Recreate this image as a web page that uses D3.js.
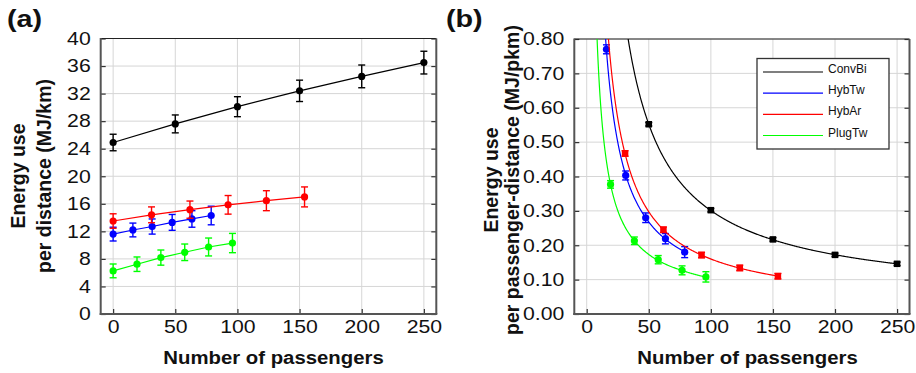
<!DOCTYPE html>
<html>
<head>
<meta charset="utf-8">
<script src="https://cdn.jsdelivr.net/npm/d3@7"></script>
<style>
  body { margin: 0; background: #fff; }
  svg { display: block; font-family: "Liberation Sans", Arial, sans-serif; }
</style>
</head>
<body>
<div id="chart"></div>
<script>
// ---- data ----
const seriesNames = ['ConvBi', 'HybTw', 'HybAr', 'PlugTw'];
const seriesColors = ['#000000', '#0000ff', '#ff0000', '#00ff00'];

// passengers for each series
const convBiN = [0, 50, 100, 150, 200, 250];
const hybTwN = [0, 15.9, 31.4, 47.5, 63.4, 78.9];
const hybArN = [0, 30.9, 61.8, 92.5, 123.3, 154];
const plugTwN = [0, 19.2, 38.4, 57.6, 76.8, 96];

// (a) energy use per distance, MJ/km, and error half-widths
const convBiA = [24.9, 27.6, 30.1, 32.4, 34.5, 36.5];
const convBiAErr = [1.2, 1.3, 1.45, 1.55, 1.65, 1.65];
const hybTwA = [11.6, 12.2, 12.7, 13.3, 13.8, 14.3];
const hybTwAErr = [1.0, 1.0, 1.1, 1.15, 1.2, 1.35];
const hybArA = [13.5, 14.4, 15.15, 15.85, 16.45, 17.0];
const hybArAErr = [1.05, 1.15, 1.25, 1.35, 1.45, 1.45];
const plugTwA = [6.26, 7.23, 8.19, 8.96, 9.73, 10.3];
const plugTwAErr = [1.0, 1.05, 1.1, 1.2, 1.3, 1.4];

// (b) energy use per passenger-distance, MJ/pkm (no point at 0 passengers)
const convBiB = [0.552, 0.302, 0.217, 0.172, 0.146];
const convBiBErr = [0.005, 0.005, 0.005, 0.005, 0.005];
const hybTwB = [0.770, 0.403, 0.280, 0.219, 0.180];
const hybTwBErr = [0.013, 0.013, 0.014, 0.015, 0.016];
const hybArB = [0.467, 0.245, 0.1715, 0.134, 0.110];
const hybArBErr = [0.008, 0.008, 0.008, 0.008, 0.008];
const plugTwB = [0.377, 0.213, 0.158, 0.127, 0.108];
const plugTwBErr = [0.011, 0.011, 0.012, 0.013, 0.015];

const xTicks = [0, 50, 100, 150, 200, 250];
const yTicksA = [0, 4, 8, 12, 16, 20, 24, 28, 32, 36, 40];
const yTicksB = [0, 0.1, 0.2, 0.3, 0.4, 0.5, 0.6, 0.7, 0.8];

// ---- layout ----
const width = 916, height = 373;
const SX = 1.18;          // the reference text is a little wider than tall
const tickFont = 18;

const svg = d3.select('#chart').append('svg')
  .attr('width', width)
  .attr('height', height);

function buildSeries(nArr, aArr, aErr, bArr, bErr, i) {
  return {
    name: seriesNames[i],
    color: seriesColors[i],
    a: nArr.map((n, k) => ({ n, v: aArr[k], e: aErr[k] })),
    b: nArr.slice(1).map((n, k) => ({ n, v: bArr[k], e: bErr[k] }))
  };
}

const series = [
  buildSeries(convBiN, convBiA, convBiAErr, convBiB, convBiBErr, 0),
  buildSeries(hybTwN, hybTwA, hybTwAErr, hybTwB, hybTwBErr, 1),
  buildSeries(hybArN, hybArA, hybArAErr, hybArB, hybArBErr, 2),
  buildSeries(plugTwN, plugTwA, plugTwAErr, plugTwB, plugTwBErr, 3)
];

function drawFrame(g, x, y, xTickVals, yTickVals, yFormat) {
  const [x0, x1] = x.range();
  const [y0, y1] = y.range();

  // grid
  g.append('g').selectAll('line')
    .data(xTickVals)
    .join('line')
    .attr('x1', d => x(d)).attr('x2', d => x(d))
    .attr('y1', y0).attr('y2', y1)
    .attr('stroke', '#d6d6d6').attr('stroke-width', 1);
  g.append('g').selectAll('line')
    .data(yTickVals)
    .join('line')
    .attr('x1', x0).attr('x2', x1)
    .attr('y1', d => y(d)).attr('y2', d => y(d))
    .attr('stroke', '#d6d6d6').attr('stroke-width', 1);

  // axes with inward ticks
  const left = g.append('g')
    .attr('transform', `translate(${x0},0)`)
    .call(d3.axisLeft(y).tickValues(yTickVals).tickFormat(yFormat)
      .tickSizeInner(-5).tickSizeOuter(0).tickPadding(10 / SX));
  const right = g.append('g')
    .attr('transform', `translate(${x1},0)`)
    .call(d3.axisRight(y).tickValues(yTickVals).tickFormat('')
      .tickSizeInner(-5).tickSizeOuter(0));
  const bottom = g.append('g')
    .attr('transform', `translate(0,${y0})`)
    .call(d3.axisBottom(x).tickValues(xTickVals)
      .tickSizeInner(-5).tickSizeOuter(0).tickPadding(6));

  [left, right, bottom].forEach(ax => {
    ax.select('.domain').remove();
    ax.selectAll('.tick line').attr('stroke', '#333').attr('stroke-width', 1.2);
    ax.selectAll('text')
      .attr('fill', '#111')
      .style('font-size', tickFont + 'px')
      .attr('transform', `scale(${SX},1)`);
  });

  // box: dark left / bottom / right, thin top
  g.append('line').attr('x1', x0).attr('x2', x1).attr('y1', y1).attr('y2', y1)
    .attr('stroke', '#222').attr('stroke-width', 1);
  g.append('line').attr('x1', x1).attr('x2', x1).attr('y1', y1).attr('y2', y0)
    .attr('stroke', '#555').attr('stroke-width', 2);
  g.append('line').attr('x1', x0).attr('x2', x0).attr('y1', y1 - 0.5).attr('y2', y0 + 1)
    .attr('stroke', '#555').attr('stroke-width', 2);
  g.append('line').attr('x1', x0 - 1).attr('x2', x1 + 1).attr('y1', y0).attr('y2', y0)
    .attr('stroke', '#555').attr('stroke-width', 2);
}

function drawErrorBars(g, pts, x, y, color) {
  const cap = 3.5;
  const eb = g.append('g').attr('stroke', color).attr('stroke-width', 1.4);
  eb.selectAll('line.v').data(pts).join('line').attr('class', 'v')
    .attr('x1', d => x(d.n)).attr('x2', d => x(d.n))
    .attr('y1', d => y(d.v - d.e)).attr('y2', d => y(d.v + d.e));
  eb.selectAll('line.t').data(pts).join('line').attr('class', 't')
    .attr('x1', d => x(d.n) - cap).attr('x2', d => x(d.n) + cap)
    .attr('y1', d => y(d.v + d.e)).attr('y2', d => y(d.v + d.e));
  eb.selectAll('line.b').data(pts).join('line').attr('class', 'b')
    .attr('x1', d => x(d.n) - cap).attr('x2', d => x(d.n) + cap)
    .attr('y1', d => y(d.v - d.e)).attr('y2', d => y(d.v - d.e));
}

function yTitle(g, lines, xs, cy) {
  lines.forEach((t, i) => {
    g.append('text')
      .attr('transform', `translate(${xs[i]},${cy}) rotate(-90)`)
      .attr('text-anchor', 'middle')
      .style('font-size', '19.5px')
      .style('font-weight', 'bold')
      .attr('fill', '#111')
      .text(t);
  });
}

function xTitle(g, cx, yb) {
  g.append('text')
    .attr('transform', `translate(${cx},${yb}) scale(1.1,1)`)
    .attr('text-anchor', 'middle')
    .style('font-size', '18.5px')
    .style('font-weight', 'bold')
    .attr('fill', '#111')
    .text('Number of passengers');
}

function panelLabel(g, lx, label) {
  g.append('text')
    .attr('transform', `translate(${lx},27) scale(1.25,1)`)
    .style('font-size', '23px')
    .style('font-weight', 'bold')
    .attr('fill', '#111')
    .text(label);
}

// ---- panel (a) ----
const xA = d3.scaleLinear().domain([-10, 260]).range([100.7, 436.3]);
const yA = d3.scaleLinear().domain([0, 40]).range([314, 38.5]);
const gA = svg.append('g');
drawFrame(gA, xA, yA, xTicks, yTicksA, d3.format('d'));

const lineA = d3.line().x(d => xA(d.n)).y(d => yA(d.v));
series.forEach(s => {
  const sg = gA.append('g');
  sg.append('path').datum(s.a)
    .attr('d', lineA).attr('fill', 'none')
    .attr('stroke', s.color).attr('stroke-width', 1.2);
  drawErrorBars(sg, s.a, xA, yA, s.color);
  sg.selectAll('circle').data(s.a).join('circle')
    .attr('cx', d => xA(d.n)).attr('cy', d => yA(d.v))
    .attr('r', 3.6).attr('fill', s.color);
});

yTitle(gA, ['Energy use', 'per distance (MJ/km)'], [25, 51], 176);
xTitle(gA, 273.5, 364);
panelLabel(gA, 7, '(a)');

// ---- panel (b) ----
const xB = d3.scaleLinear().domain([-10, 260]).range([574.3, 909.5]);
const yB = d3.scaleLinear().domain([0, 0.8]).range([314, 39]);
const gB = svg.append('g');
drawFrame(gB, xB, yB, xTicks, yTicksB, d3.format('.2f'));

svg.append('clipPath').attr('id', 'clipB')
  .append('rect')
  .attr('x', xB.range()[0]).attr('y', yB.range()[1])
  .attr('width', xB.range()[1] - xB.range()[0])
  .attr('height', yB.range()[0] - yB.range()[1]);

// the curves in (b) are the (a) lines divided by the passenger count
const lineB = d3.line().x(d => xB(d.n)).y(d => yB(d.v));
series.forEach((s, i) => {
  const perDist = d3.scaleLinear()
    .domain(s.a.map(d => d.n))
    .range(s.a.map(d => d.v));
  const nMax = s.a[s.a.length - 1].n;
  const nStart = d3.range(1, nMax, 0.25).find(n => perDist(n) / n <= 0.82);
  const curve = d3.range(nStart, nMax, 0.5).concat([nMax])
    .map(n => ({ n, v: perDist(n) / n }));

  const sg = gB.append('g');
  sg.append('path').datum(curve)
    .attr('clip-path', 'url(#clipB)')
    .attr('d', lineB).attr('fill', 'none')
    .attr('stroke', s.color).attr('stroke-width', 1.2);
  drawErrorBars(sg, s.b, xB, yB, s.color);
  const square = s.name === 'ConvBi' || s.name === 'HybAr';
  if (square) {
    const side = 6.5;
    sg.selectAll('rect.mk').data(s.b).join('rect').attr('class', 'mk')
      .attr('x', d => xB(d.n) - side / 2).attr('y', d => yB(d.v) - side / 2)
      .attr('width', side).attr('height', side).attr('fill', s.color);
  } else {
    sg.selectAll('circle').data(s.b).join('circle')
      .attr('cx', d => xB(d.n)).attr('cy', d => yB(d.v))
      .attr('r', 3.6).attr('fill', s.color);
  }
});

// legend
const legend = gB.append('g').attr('transform', 'translate(757,58.5)');
legend.append('rect')
  .attr('width', 132).attr('height', 90.5)
  .attr('fill', '#fff').attr('stroke', '#333').attr('stroke-width', 1.3);
const rowY = d3.scalePoint().domain(seriesNames).range([13.5, 77]);
seriesNames.forEach((name, i) => {
  legend.append('line')
    .attr('x1', 6).attr('x2', 66)
    .attr('y1', rowY(name)).attr('y2', rowY(name))
    .attr('stroke', seriesColors[i]).attr('stroke-width', 1.2);
  legend.append('text')
    .attr('x', 71).attr('y', rowY(name) + 1)
    .style('font-size', '12px')
    .attr('fill', '#111')
    .text(name);
});

yTitle(gB, ['Energy use', 'per passenger-distance (MJ/pkm)'], [498, 519], 180);
xTitle(gB, 747.5, 364);
panelLabel(gB, 446, '(b)');
</script>
</body>
</html>
